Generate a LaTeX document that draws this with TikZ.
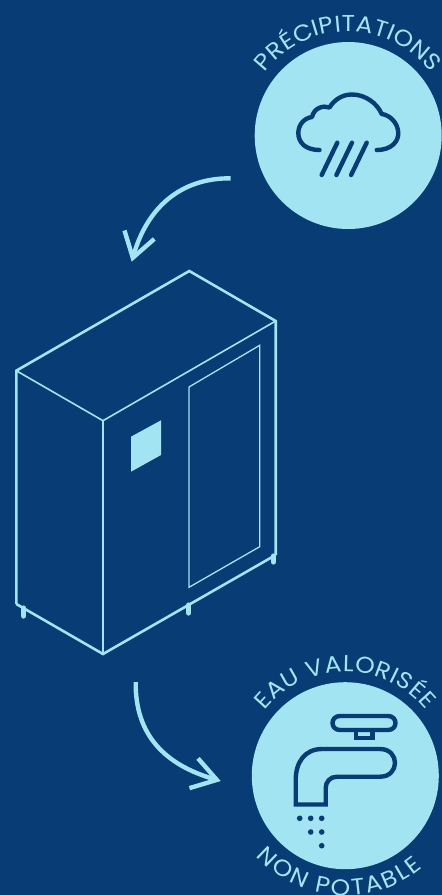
\documentclass[tikz,border=0pt]{standalone}
\usepackage{xcolor}
\usepackage{fontspec}
\setmainfont[FakeStretch=1.08]{Poppins}
\usetikzlibrary{
  arrows.meta,
  decorations.text
}
\definecolor{isNavy}{HTML}{083C74}
\definecolor{isSky}{HTML}{A2E4F2}
\tikzset{
  disc/.style={circle, fill=isSky, inner sep=0pt, minimum size=187pt},
  hull/.style={isSky, line width=2.6pt, line join=miter},
  seam/.style={isSky, line width=1.6pt},
  foot/.style={isSky, line width=5.2pt, line cap=round},
  icon/.style={isNavy, line width=4.4pt, line cap=round, line join=round},
  flow/.style={-{Straight Barb[length=24pt, width=31pt]}, isSky, line width=4.4pt},
  arctext/.style={decorate, decoration={text along path, text color=isSky,
      text align={fit to path}}}
}
\newcommand{\arcfont}{\fontsize{23}{23}\selectfont}

\begin{document}
\begin{tikzpicture}[x=1pt, y=1pt]
  \useasboundingbox[fill=isNavy] (0,0) rectangle (442,-895);

  % discs
  \node[disc] (rain) at (348.2,-135.5) {};
  \node[disc] (tap) at (345.3,-775.7) {};

  % labels
  \path[arctext, decoration={text={|\arcfont|PRÉCIPITATIONS}}]
    (rain.center) ++(143:104) arc[start angle=143, end angle=37, radius=104];
  \path[arctext, decoration={text={|\arcfont|EAU VALORISÉE}}]
    (tap.center) ++(141:104) arc[start angle=141, end angle=39, radius=104];
  \path[arctext, decoration={text={|\arcfont|NON POTABLE}}]
    (tap.center) ++(-138:120) arc[start angle=-138, end angle=-50, radius=120];

  % cloud
  \draw[icon] (376.7,-150) .. controls (392,-150) and (398.5,-141) .. (398.3,-133)
    .. controls (398,-123) and (390,-115) .. (381.7,-114)
    .. controls (377,-103) and (365,-94.5) .. (352,-94.5)
    .. controls (342,-94.5) and (334,-100) .. (329.5,-107.5)
    .. controls (323,-105) and (314,-108) .. (312,-117)
    .. controls (304,-118) and (298.3,-125) .. (298.3,-133)
    .. controls (298.3,-143) and (306,-150) .. (319.5,-150);
  \foreach \x in {0,14.7,29.4}
    \draw[icon] ({337.3+\x},-142.7) -- ({321.7+\x},-175);

  % machine
  \coordinate (top) at (189.3,-271);
  \coordinate (back) at (275.7,-321);
  \coordinate (side) at (16.3,-370.7);
  \coordinate (front) at (103,-420.7);
  \coordinate (low) at (103,-654);
  \coordinate (sidelow) at (16.3,-604);
  \coordinate (backlow) at (275.7,-555);
  \draw[foot] (23.7,-608) -- (23.7,-616);
  \draw[foot] (188.7,-605) -- (188.7,-613);
  \draw[foot] (273.3,-556) -- (273.3,-562);
  \draw[hull] (front) -- (low);
  \draw[hull] (sidelow) -- (side) -- (top) -- (back) -- (backlow);
  \draw[hull] (sidelow) -- (low) -- (backlow);
  \draw[seam] (side) -- (front) -- (back);
  \draw[isSky, line width=1.3pt] (189,-387) -- (259.7,-345.3) -- (259.7,-546.7)
    -- (189,-587.3) -- cycle;
  \fill[isSky] (131,-436.7) -- (161,-420.3) -- (161,-455) -- (131,-471.7) -- cycle;

  % tap
  \draw[icon, line cap=butt, line join=miter] (356,-730) -- (356,-738) -- (372.5,-738) -- (372.5,-730);
  \draw[icon] (340,-716) -- (388,-716) .. controls (398,-716) and (398,-730) .. (388,-730)
    -- (340,-730) .. controls (330,-730) and (330,-716) .. (340,-716) -- cycle;
  \draw[icon, line join=miter] (295.7,-804.5) -- (295.7,-780)
    .. controls (295.7,-762) and (305,-749) .. (322,-749) -- (380,-749)
    .. controls (400,-749) and (400,-776.7) .. (380,-776.7) -- (337,-776.7)
    .. controls (330,-776.7) and (325.7,-782) .. (325.7,-788) -- (325.7,-804.5) -- cycle;
  \foreach \x/\y in {299.7/818.3, 310.7/818.3, 321.7/818.3, 310.7/832, 321.7/832, 321.7/845.7}
    \fill[isNavy] (\x,-\y) circle (2.8);

  % arrows
  \coordinate (in) at (230.7,-178.3);
  \coordinate (inend) at (131.7,-261.7);
  \coordinate (out) at (135.7,-682);
  \coordinate (outend) at (220.7,-781);
  \draw[flow] (in) .. controls (180,-178) and (147,-208) .. (inend);
  \draw[flow] (out) .. controls (135,-735) and (165,-765) .. (outend);
\end{tikzpicture}
\end{document}
